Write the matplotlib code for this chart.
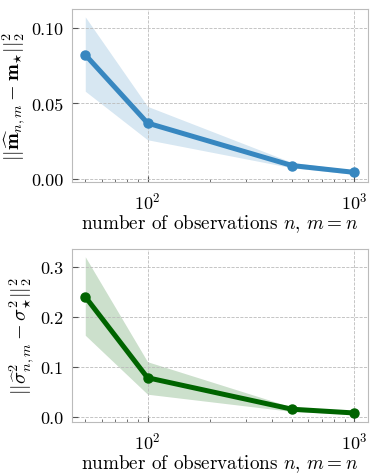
import matplotlib
matplotlib.use('Agg')
import matplotlib.pyplot as plt
import numpy as np

plt.rcParams['font.family'] = 'serif'
plt.rcParams['font.serif'] = ['cmr10', 'DejaVu Serif']
plt.rcParams['mathtext.fontset'] = 'cm'
plt.rcParams['axes.formatter.use_mathtext'] = True
plt.rcParams['axes.unicode_minus'] = False
plt.rcParams['font.size'] = 13

# number of observations
n_obs = [50, 100, 500, 1000]

# mean error
mean_err = [0.082, 0.037, 0.009, 0.0045]
mean_lo = [0.058, 0.026, 0.0075, 0.0032]
mean_hi = [0.107, 0.048, 0.0110, 0.0060]

# variance error
var_err = [0.240, 0.078, 0.015, 0.0075]
var_lo = [0.163, 0.045, 0.0105, 0.0050]
var_hi = [0.320, 0.110, 0.0190, 0.0095]

fig, axes = plt.subplots(2, 1, figsize=(3.78, 4.77), dpi=100)
fig.subplots_adjust(left=0.19, right=0.973, top=0.979, bottom=0.113, hspace=0.385)

panels = [
    (mean_err, mean_lo, mean_hi, '#3787c0',
     r'$||\widehat{\mathbf{m}}_{n,m}-\mathbf{m}_{\star}||_2^2$', [0.0, 0.05, 0.10], '{:.2f}'),
    (var_err, var_lo, var_hi, '#006400',
     r'$||\widehat{\sigma}^2_{n,m}-\sigma^2_{\star}||_2^2$', [0.0, 0.1, 0.2, 0.3], '{:.1f}'),
]

for ax, (y, lo, hi, col, lab, yt, fmt) in zip(axes, panels):
    ax.fill_between(n_obs, lo, hi, color=col, alpha=0.2, linewidth=0)
    ax.plot(n_obs, y, color=col, linewidth=3.6, marker='o', markersize=6.5)
    ax.set_xscale('log')
    ax.set_yticks(yt)
    ax.set_yticklabels([fmt.format(v) for v in yt])
    ax.set_ylabel(lab, fontsize=14.5, labelpad=2)
    ax.set_xlabel(r'number of observations $n$, $m=n$', fontsize=13.8, labelpad=1)
    ax.grid(True, linestyle='--', color='#bbbbbb', linewidth=0.6)
    ax.tick_params(which='both', direction='in', color='#555555')
    ax.tick_params(which='major', length=4, pad=6)
    ax.tick_params(which='minor', length=2.5)
    for s in ax.spines.values():
        s.set_color('#bbbbbb')

plt.savefig('out.png', dpi=100)
